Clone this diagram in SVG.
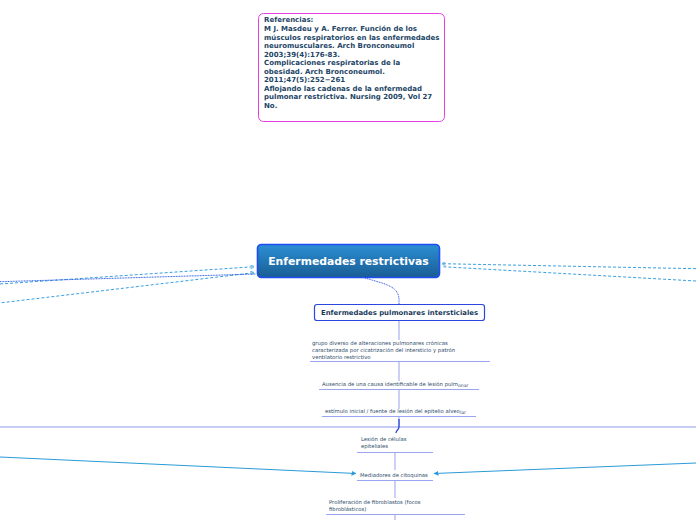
<svg xmlns="http://www.w3.org/2000/svg" width="696" height="520" viewBox="0 0 696 520">
<defs>
<linearGradient id="gMain" x1="0" y1="0" x2="0" y2="1">
<stop offset="0" stop-color="#2b8fd4"/>
<stop offset="1" stop-color="#1a5d94"/>
</linearGradient>
<marker id="arr" viewBox="0 0 10 10" refX="9" refY="5" markerWidth="5" markerHeight="5" orient="auto">
<path d="M0,0 L10,5 L0,10 z" fill="#2a9ad8"/>
</marker>
<marker id="arrS" viewBox="0 0 10 10" refX="9" refY="5" markerWidth="4" markerHeight="4" orient="auto">
<path d="M0,0 L10,5 L0,10" fill="none" stroke="#3aa0e0" stroke-width="2"/>
</marker>
</defs>
<style>
.ref{font-family:"DejaVu Sans",Verdana,sans-serif;font-weight:bold;font-size:7px;fill:#1d4566}
.small{font-family:"DejaVu Sans",Verdana,sans-serif;font-size:5.3px;fill:#2d4a6a}
.sub{font-family:"DejaVu Sans",Verdana,sans-serif;font-weight:bold;font-size:6.9px;fill:#1a3a5c}
.under{stroke:#9aa4f0;stroke-width:1}
.vert{stroke:#a8b0f0;stroke-width:1.2}
.dash{fill:none;stroke:#3aa0e0;stroke-width:1;stroke-dasharray:3,2}
.solid{fill:none;stroke:#2a9ad8;stroke-width:1}
</style>
<rect width="696" height="520" fill="#ffffff"/>

<g id="connectors">
<line class="dash" x1="0" y1="284" x2="254" y2="266.7" marker-end="url(#arrS)"/>
<line class="dash" x1="1.7" y1="302.7" x2="254" y2="272.7" marker-end="url(#arrS)"/>
<line fill="none" stroke="#3060e8" stroke-width="1" stroke-dasharray="1,0.6" x1="0" y1="281.7" x2="256" y2="274"/>
<line class="dash" x1="696" y1="268.7" x2="442" y2="263.7" marker-end="url(#arrS)"/>
<line class="dash" x1="696" y1="281" x2="442" y2="266.7"/>
<path d="M365,278 C385,284 399,286 399,300 L399,304" fill="none" stroke="#3050e0" stroke-width="1" stroke-dasharray="1,0.8"/>
<line class="vert" x1="399" y1="320" x2="399" y2="340"/>
<line class="vert" x1="399" y1="361" x2="399" y2="381"/>
<line class="vert" x1="399" y1="389" x2="399" y2="409"/>
<line class="vert" x1="399" y1="416" x2="399" y2="427"/>
<line x1="0" y1="427" x2="696" y2="427" stroke="#8e9ae8" stroke-width="1"/>
<path d="M399,419 L399,427 C399,430 396,430 396,433" fill="none" stroke="#2040d0" stroke-width="1.2"/>
<line class="vert" x1="395" y1="452" x2="395" y2="470"/>
<line class="vert" x1="395" y1="481" x2="395" y2="498"/>
<line class="vert" x1="395" y1="514" x2="395" y2="520"/>
<line class="solid" x1="0" y1="457" x2="356" y2="473.5" marker-end="url(#arr)"/>
<line class="solid" x1="696" y1="463" x2="434" y2="473.5" marker-end="url(#arr)"/>
</g>

<g id="referencias">
<rect x="258.5" y="13.5" width="186" height="108" rx="5" fill="#ffffff" stroke="#e83ee0" stroke-width="1"/>
<text class="ref" x="264" y="22">Referencias:</text>
<text class="ref" x="264" y="31">M J. Masdeu y A. Ferrer.  Función de los</text>
<text class="ref" x="264" y="39.5">músculos respiratorios en las enfermedades</text>
<text class="ref" x="264" y="48">neuromusculares. Arch Bronconeumol</text>
<text class="ref" x="264" y="56.5">2003;39(4):176-83.</text>
<text class="ref" x="264" y="65">Complicaciones respiratorias de la</text>
<text class="ref" x="264" y="73.5">obesidad.  Arch Bronconeumol.</text>
<text class="ref" x="264" y="82">2011;47(5):252−261</text>
<text class="ref" x="264" y="90.5">Aflojando las cadenas de la enfermedad</text>
<text class="ref" x="264" y="99">pulmonar restrictiva. Nursing 2009, Vol 27</text>
<text class="ref" x="264" y="107.5">No.</text>
</g>

<g id="main">
<rect x="257.5" y="244.5" width="182" height="33" rx="4" fill="url(#gMain)" stroke="#1e4ef0" stroke-width="1.6"/>
<text x="348.5" y="265" text-anchor="middle" font-family="DejaVu Sans, Verdana, sans-serif" font-weight="bold" font-size="10.8" fill="#ffffff">Enfermedades restrictivas</text>
</g>

<g id="intersticiales">
<rect x="314.5" y="304.5" width="170" height="16" rx="2.5" fill="#ffffff" stroke="#2a48e0" stroke-width="1.2"/>
<text class="sub" x="399.5" y="315" text-anchor="middle">Enfermedades pulmonares intersticiales</text>
</g>

<g id="grupo">
<text class="small" x="312" y="345">grupo diverso de alteraciones pulmonares crónicas</text>
<text class="small" x="312" y="352">caracterizada por cicatrización del intersticio y patrón</text>
<text class="small" x="312" y="358.5">ventilatorio restrictivo</text>
<line class="under" x1="310" y1="361.5" x2="490" y2="361.5"/>
</g>

<g id="ausencia">
<text class="small" x="322" y="386">Ausencia de una causa identificable de lesión pulm<tspan font-size="4.6" dy="1">onar</tspan></text>
<line class="under" x1="319" y1="389.5" x2="479" y2="389.5"/>
</g>

<g id="estimulo">
<text class="small" x="325" y="413">estímulo inicial / fuente de lesión del epitelio alveo<tspan font-size="4.6" dy="1">lar</tspan></text>
<line class="under" x1="322" y1="416.5" x2="476" y2="416.5"/>
</g>

<g id="lesion">
<text class="small" x="361" y="441">Lesión de células</text>
<text class="small" x="361" y="448">epiteliales</text>
<line class="under" x1="357" y1="452.5" x2="433" y2="452.5"/>
</g>

<g id="mediadores">
<text class="small" x="360" y="476.5">Mediadores de citoquinas</text>
<line class="under" x1="357" y1="480.5" x2="433" y2="480.5"/>
</g>

<g id="proliferacion">
<text class="small" x="329" y="504">Proliferación de fibroblastos (focos</text>
<text class="small" x="329" y="511">fibroblásticos)</text>
<line class="under" x1="326" y1="514.5" x2="465" y2="514.5"/>
</g>
</svg>
